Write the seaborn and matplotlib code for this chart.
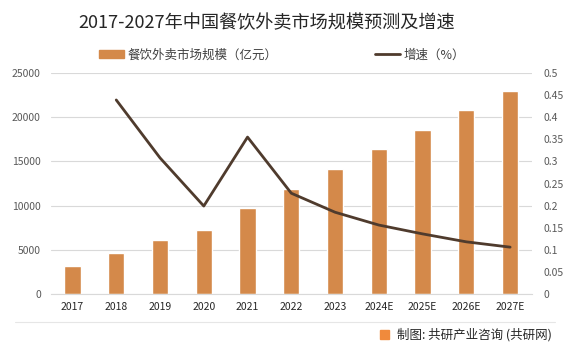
import matplotlib
matplotlib.use('Agg')
import matplotlib.pyplot as plt
import matplotlib.patches as mpatches
from matplotlib.lines import Line2D
import numpy as np
import pandas as pd
import seaborn as sns

years = ['2017', '2018', '2019', '2020', '2021', '2022', '2023',
         '2024E', '2025E', '2026E', '2027E']
market_size = [3170, 4640, 6110, 7240, 9730, 11900, 14100,
               16400, 18550, 20800, 22960]
growth = [0.439, 0.308, 0.199, 0.355, 0.228, 0.185,
          0.156, 0.136, 0.118, 0.106]

bar_color = '#D4894A'
line_color = '#4F3B2D'

sns.set_style('white')
plt.rcParams['font.family'] = ['Noto Sans CJK SC', 'DejaVu Sans']

fig = plt.figure(figsize=(5.71, 3.55), dpi=100)
ax = fig.add_axes([50.6 / 571, 1 - 294 / 355, (532 - 50.6) / 571, 221 / 355])

df = pd.DataFrame({'year': years, 'size': market_size})
sns.barplot(data=df, x='year', y='size', color=bar_color, width=0.37,
            saturation=1, ax=ax)
ax.set_ylim(0, 25000)
ax.set_yticks(range(0, 25001, 5000))
ax.set_xlabel('')
ax.set_ylabel('')
ax.yaxis.grid(True, color='#D9D9D9', linewidth=0.8)
ax.set_axisbelow(True)
for s in ['top', 'right', 'left']:
    ax.spines[s].set_visible(False)
ax.spines['bottom'].set_color('#D9D9D9')
ax.tick_params(axis='y', labelsize=7.5, colors='#595959', length=0, pad=7)
ax.tick_params(axis='x', labelsize=7.5, colors='#262626', length=0, pad=6)

ax2 = ax.twinx()
growth_x = np.arange(1, len(years))
sns.lineplot(x=growth_x, y=growth, color=line_color, linewidth=2, ax=ax2)
ax2.set_ylim(0, 0.5)
ax2.set_yticks(np.arange(0, 0.501, 0.05))
ax2.set_yticklabels(['0', '0.05', '0.1', '0.15', '0.2', '0.25', '0.3',
                     '0.35', '0.4', '0.45', '0.5'])
ax2.set_ylabel('')
for s in ['top', 'right', 'left', 'bottom']:
    ax2.spines[s].set_visible(False)
ax2.tick_params(axis='y', labelsize=7.5, colors='#595959', length=0, pad=8)
ax.set_xlim(-0.5, len(years) - 0.5)

fig.text(267 / 571, 1 - 23 / 355, '2017-2027年中国餐饮外卖市场规模预测及增速',
         ha='center', va='center', fontsize=13.1, color='#262626')

bar_handle = mpatches.Patch(color=bar_color)
fig.legend([bar_handle], ['餐饮外卖市场规模（亿元）'], loc='center left',
           bbox_to_anchor=(99 / 571, 1 - 55 / 355), frameon=False,
           fontsize=9, handlelength=2.0, handleheight=0.55, handletextpad=0.25,
           borderpad=0, borderaxespad=0, labelcolor='#404040')
line_handle = Line2D([], [], color=line_color, linewidth=2)
fig.legend([line_handle], ['增速（%）'], loc='center left',
           bbox_to_anchor=(375 / 571, 1 - 55 / 355), frameon=False,
           fontsize=9, handlelength=2.0, handletextpad=0.25,
           borderpad=0, borderaxespad=0, labelcolor='#404040')

fig.add_artist(Line2D([15 / 571, 555 / 571], [1 - 322 / 355, 1 - 322 / 355],
                      color='#E6E6E6', linewidth=0.8))
fig.patches.append(mpatches.Rectangle((380 / 571, 1 - 339 / 355), 9 / 571, 9 / 355,
                                      transform=fig.transFigure, color='#F08A3C',
                                      figure=fig))
fig.text(397 / 571, 1 - 335 / 355, '制图: 共研产业咨询 (共研网)',
         ha='left', va='center', fontsize=9, color='#262626')

fig.savefig('out.png', dpi=100)
